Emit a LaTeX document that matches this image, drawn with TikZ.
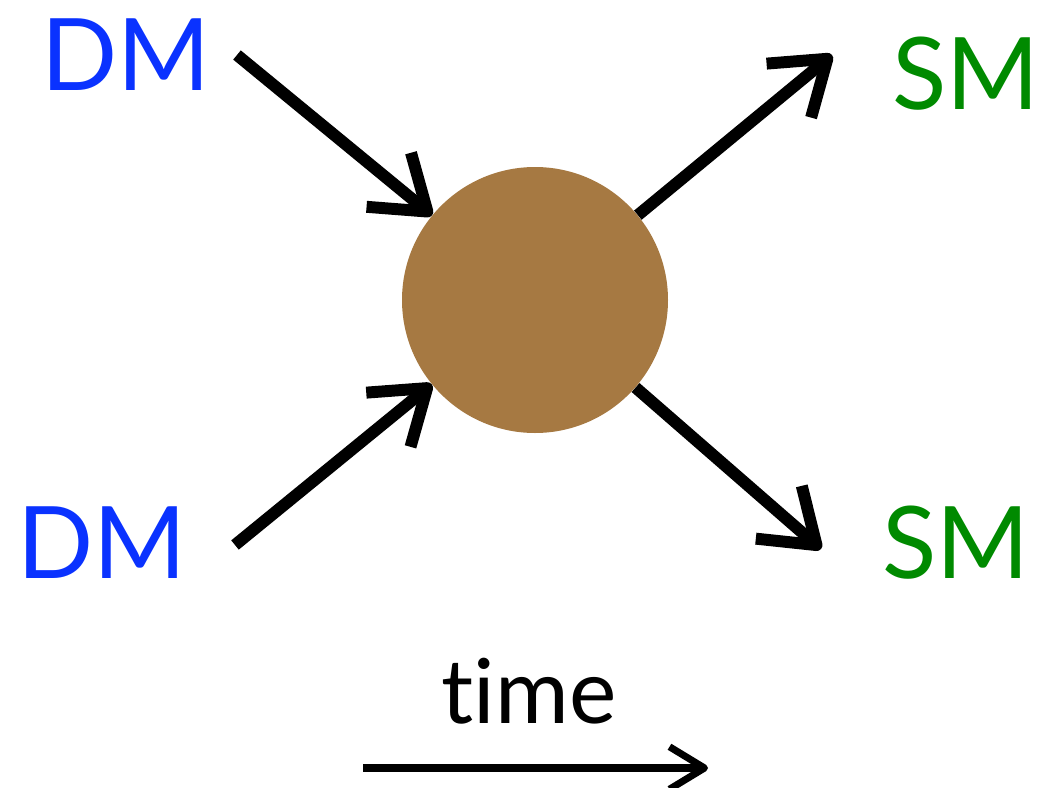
\documentclass[tikz,border=0pt]{standalone}
\usepackage{fontspec}
\setmainfont{Lato}[Ligatures=NoCommon]
\usetikzlibrary{arrows.meta}

\definecolor{dmblue}{RGB}{10,50,255}
\definecolor{smgreen}{RGB}{0,138,0}
\definecolor{blobbrown}{RGB}{166,121,66}

\tikzset{
  particle/.style={anchor=base, inner sep=0pt, font=\fontsize{57}{57}\selectfont},
  dmlabel/.style={particle, text=dmblue},
  smlabel/.style={particle, text=smgreen},
  flow/.style={line width=6.8pt, -{Straight Barb[length=1cm, width=1.4cm, line join=round, line cap=butt]}},
  timeflow/.style={line width=4pt, -{Straight Barb[length=0.7cm, width=0.85cm, line join=round, line cap=butt]}}
}

\begin{document}
\begin{tikzpicture}[x=0.02cm, y=-0.02cm]
  \useasboundingbox (0,0) rectangle (1039,788);

  % labels
  \node[dmlabel] (dmtop) at (126,90) {DM};
  \node[dmlabel] (dmbot) at (102,578) {DM};
  \node[smlabel] (smtop) at (966,109) {SM};
  \node[smlabel] (smbot) at (956,578) {SM};

  % the annihilation blob
  \node[circle, fill=blobbrown, minimum size=266*0.02cm, inner sep=0pt] (blob) at (535,300) {};

  % arrow ends
  \coordinate (intop) at (237,55);
  \coordinate (inbot) at (235,545);
  \coordinate (outtop) at (832,55);
  \coordinate (outbot) at (821,549);

  \draw[flow] (intop) -- (blob);
  \draw[flow] (inbot) -- (blob);
  \draw[flow] (blob) -- (outtop);
  \draw[flow] (blob) -- (outbot);

  % time axis
  \node[particle, font=\fontsize{51}{51}\selectfont] (time) at (529,723) {t\kern0pt ime};
  \coordinate (tstart) at (363,768);
  \coordinate (tend) at (708,768);
  \draw[timeflow] (tstart) -- (tend);
\end{tikzpicture}
\end{document}
